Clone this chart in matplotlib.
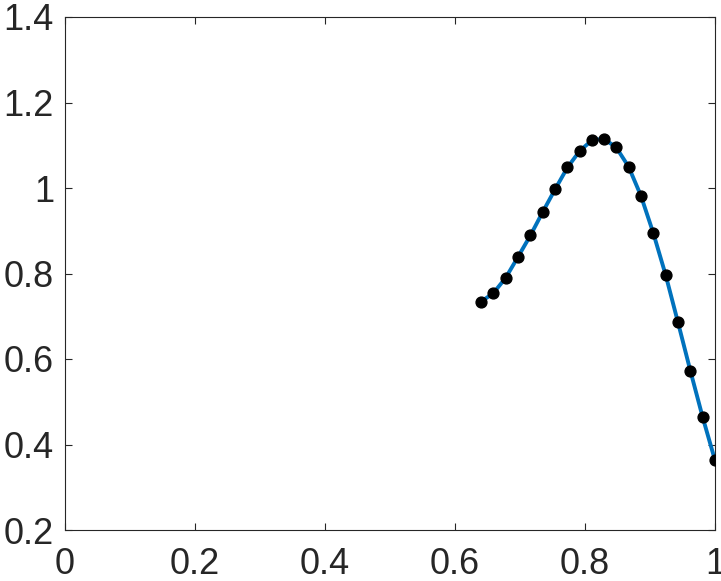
import matplotlib
matplotlib.use("Agg")
import matplotlib.pyplot as plt

x = [0.640, 0.659, 0.678, 0.697, 0.716, 0.735, 0.754, 0.773, 0.792, 0.811,
     0.829, 0.848, 0.867, 0.886, 0.905, 0.924, 0.943, 0.962, 0.981, 1.000]
y = [0.734, 0.754, 0.790, 0.839, 0.889, 0.944, 0.997, 1.048, 1.087, 1.112,
     1.115, 1.095, 1.050, 0.982, 0.895, 0.797, 0.686, 0.573, 0.464, 0.363]

xticks = [0, 0.2, 0.4, 0.6, 0.8, 1]
xticklabels = ["0", "0.2", "0.4", "0.6", "0.8", "1"]
yticks = [0.2, 0.4, 0.6, 0.8, 1, 1.2, 1.4]
yticklabels = ["0.2", "0.4", "0.6", "0.8", "1", "1.2", "1.4"]

plt.rcParams["font.family"] = ["Liberation Sans", "DejaVu Sans"]

fig = plt.figure(figsize=(7.21, 5.81), dpi=100)
ax = fig.add_axes([65 / 721, 51 / 581, 650 / 721, 513 / 581])

ax.plot(x, y, color="#0072BD", linewidth=2.8, zorder=2)
ax.plot(x, y, "o", color="black", markersize=7.8, zorder=3)

ax.set_xlim(0, 1)
ax.set_ylim(0.2, 1.4)
ax.set_xticks(xticks)
ax.set_xticklabels(xticklabels)
ax.set_yticks(yticks)
ax.set_yticklabels(yticklabels)
ax.tick_params(direction="in", length=5, width=0.8, top=True, right=True,
               labelsize=26, labelcolor="#262626", color="#262626")
ax.tick_params(axis="x", pad=12)
ax.tick_params(axis="y", pad=8)
for s in ax.spines.values():
    s.set_linewidth(0.8)
    s.set_color("#262626")

fig.savefig("out.png", dpi=100)
